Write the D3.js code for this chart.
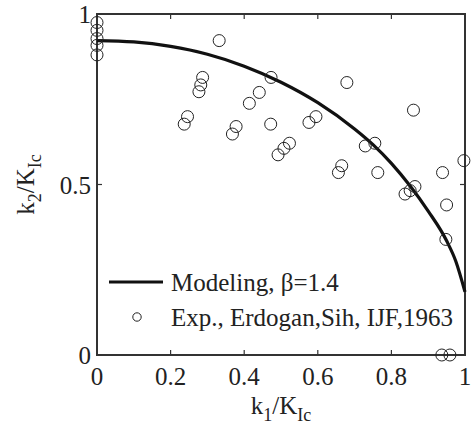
<!DOCTYPE html>
<html>
<head>
<meta charset="utf-8">
<script src="https://cdn.jsdelivr.net/npm/d3@7"></script>
<style>
  html, body { margin: 0; padding: 0; background: #fff; }
  svg { display: block; }
</style>
</head>
<body>
<svg id="chart" width="474" height="428"></svg>
<script>
// Experimental points: Erdogan & Sih, IJF 1963
const expK1 = [0, 0, 0, 0, 0,
  0.332, 0.287, 0.282, 0.277, 0.246, 0.237, 0.414, 0.441, 0.378, 0.368,
  0.472, 0.473, 0.492, 0.679, 0.860, 0.595, 0.576, 0.523, 0.508,
  0.755, 0.729, 0.665, 0.656, 0.763, 0.939, 0.997, 0.864, 0.851, 0.837,
  0.950, 0.948, 0.937, 0.959];
const expK2 = [0.975, 0.952, 0.928, 0.908, 0.880,
  0.922, 0.814, 0.792, 0.772, 0.699, 0.677, 0.738, 0.770, 0.670, 0.648,
  0.677, 0.814, 0.587, 0.799, 0.718, 0.699, 0.682, 0.621, 0.606,
  0.621, 0.613, 0.555, 0.535, 0.535, 0.535, 0.570, 0.494, 0.482, 0.472,
  0.440, 0.339, 0.000, 0.000];

// Model curve, beta = 1.4
const modelK1 = [0, 0.1, 0.2, 0.3, 0.4, 0.5, 0.6, 0.7, 0.75, 0.8, 0.85, 0.9, 0.95, 0.975, 1.0];
const modelK2 = [0.922, 0.918, 0.905, 0.882, 0.847, 0.800, 0.740, 0.663, 0.617, 0.562, 0.497, 0.422, 0.335, 0.275, 0.185];

const xTicks = [0, 0.2, 0.4, 0.6, 0.8, 1];
const yTicks = [0, 0.5, 1];

const legendLabels = ["Modeling, \u03B2=1.4", "Exp., Erdogan,Sih, IJF,1963"];

const FONT = "serif";
const INK = "#222";

const svg = d3.select("#chart");
const L = 97, R = 465, T = 14, B = 355;

const x = d3.scaleLinear().domain([0, 1]).range([L, R]);
const y = d3.scaleLinear().domain([0, 1]).range([B, T]);

// Frame
svg.append("rect").attr("x", L).attr("y", T).attr("width", R - L).attr("height", B - T)
  .attr("fill", "none").attr("stroke", "#333").attr("stroke-width", 2);

// Inward ticks on all four sides
const tk = svg.append("g").attr("stroke", "#333").attr("stroke-width", 1.2);
xTicks.forEach(v => {
  tk.append("line").attr("x1", x(v)).attr("x2", x(v)).attr("y1", B).attr("y2", B - 5);
  tk.append("line").attr("x1", x(v)).attr("x2", x(v)).attr("y1", T).attr("y2", T + 5);
});
yTicks.forEach(v => {
  tk.append("line").attr("x1", L).attr("x2", L + 5).attr("y1", y(v)).attr("y2", y(v));
  tk.append("line").attr("x1", R).attr("x2", R - 5).attr("y1", y(v)).attr("y2", y(v));
});

// Tick labels
xTicks.forEach(v => {
  svg.append("text").attr("x", x(v)).attr("y", B + 30)
    .attr("text-anchor", "middle").attr("font-family", FONT).attr("font-size", 25)
    .attr("fill", INK).text(String(v));
});
yTicks.forEach(v => {
  svg.append("text").attr("x", L - 6).attr("y", y(v) + 9)
    .attr("text-anchor", "end").attr("font-family", FONT).attr("font-size", 25)
    .attr("fill", INK).text(String(v));
});

// Model curve
const modelData = modelK1.map((k, i) => [k, modelK2[i]]);
svg.append("path")
  .datum(modelData)
  .attr("fill", "none")
  .attr("stroke", "#111")
  .attr("stroke-width", 3.2)
  .attr("d", d3.line().x(d => x(d[0])).y(d => y(d[1])).curve(d3.curveMonotoneX));

// Experimental points
const expData = expK1.map((k, i) => [k, expK2[i]]);
svg.append("g").selectAll("circle")
  .data(expData)
  .join("circle")
  .attr("cx", d => x(d[0]))
  .attr("cy", d => y(d[1]))
  .attr("r", 6)
  .attr("fill", "none")
  .attr("stroke", INK)
  .attr("stroke-width", 1);

// Legend
svg.append("line").attr("x1", 109).attr("x2", 163).attr("y1", 282).attr("y2", 282)
  .attr("stroke", "#111").attr("stroke-width", 3.2);
svg.append("circle").attr("cx", 137).attr("cy", 317).attr("r", 4.2)
  .attr("fill", "none").attr("stroke", INK).attr("stroke-width", 1);
svg.append("text").attr("x", 171).attr("y", 291).attr("font-family", FONT)
  .attr("font-size", 25).attr("fill", INK).text(legendLabels[0]);
svg.append("text").attr("x", 171).attr("y", 326).attr("font-family", FONT)
  .attr("font-size", 25).attr("fill", INK).text(legendLabels[1]);

// Axis titles with subscripts
const xt = svg.append("text").attr("x", (L + R) / 2).attr("y", 414)
  .attr("text-anchor", "middle").attr("font-family", FONT)
  .attr("font-size", 25).attr("fill", INK);
xt.append("tspan").text("k");
xt.append("tspan").attr("font-size", 18).attr("dy", 7).text("1");
xt.append("tspan").attr("dy", -7).text("/K");
xt.append("tspan").attr("font-size", 18).attr("dy", 7).text("Ic");

const yt = svg.append("text").attr("transform", `translate(34,${(T + B) / 2}) rotate(-90)`)
  .attr("text-anchor", "middle").attr("font-family", FONT)
  .attr("font-size", 25).attr("fill", INK);
yt.append("tspan").text("k");
yt.append("tspan").attr("font-size", 18).attr("dy", 7).text("2");
yt.append("tspan").attr("dy", -7).text("/K");
yt.append("tspan").attr("font-size", 18).attr("dy", 7).text("Ic");
</script>
</body>
</html>
